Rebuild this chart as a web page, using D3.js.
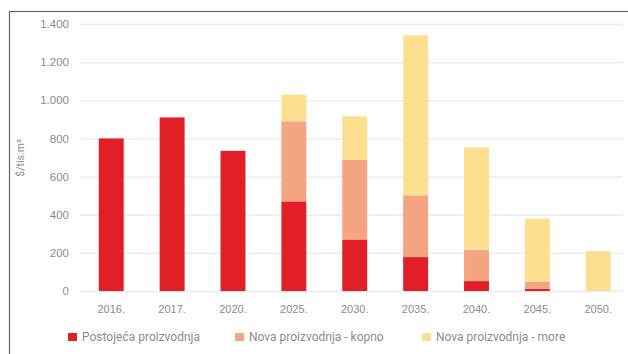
<!DOCTYPE html>
<html>
<head>
<meta charset="utf-8">
<script src="https://cdn.jsdelivr.net/npm/d3@7"></script>
<style>
  html, body { margin: 0; padding: 0; background: #fff; }
  svg { display: block; font-family: Roboto, "Noto Sans", sans-serif; }
</style>
</head>
<body>
<svg id="chart" width="628" height="354"></svg>
<script>
// Years on the x axis
const years = ["2016.", "2017.", "2020.", "2025.", "2030.", "2035.", "2040.", "2045.", "2050."];
// Cost per production source ($/tis.m³)
const postojeca = [800, 910, 735, 470, 270, 178, 52, 12, 0];
const kopno     = [0, 0, 0, 420, 417, 324, 165, 38, 0];
const more      = [0, 0, 0, 140, 229, 839, 536, 329, 210];
const seriesNames = ["Postojeća proizvodnja", "Nova proizvodnja - kopno", "Nova proizvodnja - more"];
const seriesColors = ["#e21f26", "#f5a582", "#fde08f"];
const yTicks = [0, 200, 400, 600, 800, 1000, 1200, 1400];

const svg = d3.select("#chart");

// outer frame (only top and left edges fall inside the view)
svg.append("rect")
  .attr("x", 9.5).attr("y", 11.5)
  .attr("width", 700).attr("height", 400)
  .attr("fill", "none").attr("stroke", "#666").attr("stroke-width", 1.2);

const x = d3.scaleBand().domain(years).range([80.5, 629]).paddingInner(0.59).paddingOuter(0.3);
const y = d3.scaleLinear().domain([0, 1400]).range([291, 24]);

const loc = d3.formatLocale({ decimal: ",", thousands: ".", grouping: [3], currency: ["", ""] });
const fmt = loc.format(",");

// grid lines
svg.append("g").selectAll("line").data(yTicks).join("line")
  .attr("x1", 80).attr("x2", 623)
  .attr("y1", d => y(d) + 0.5).attr("y2", d => y(d) + 0.5)
  .attr("stroke", "#ececec").attr("stroke-width", 1.5);

// y axis labels
const yAxis = d3.axisLeft(y).tickValues(yTicks).tickFormat(fmt).tickSize(0).tickPadding(0);
const gy = svg.append("g").attr("transform", "translate(69,0)").call(yAxis);
gy.select(".domain").remove();
gy.selectAll("text").attr("fill", "#8c8c8c").attr("font-size", 11.5);

// y axis title
svg.append("text")
  .attr("transform", "translate(24,158) rotate(-90)")
  .attr("text-anchor", "middle")
  .attr("fill", "#8c8c8c").attr("font-size", 10.5)
  .text("$/tis.m³");

// stacked bars
const rows = years.map((yr, i) => ({ year: yr, a: postojeca[i], b: kopno[i], c: more[i] }));
const stack = d3.stack().keys(["a", "b", "c"]);
const layers = stack(rows);

svg.append("g").selectAll("g").data(layers).join("g")
  .attr("fill", (d, i) => seriesColors[i])
  .selectAll("rect").data(d => d).join("rect")
  .attr("x", d => x(d.data.year))
  .attr("width", x.bandwidth())
  .attr("y", d => y(d[1]))
  .attr("height", d => Math.max(0, y(d[0]) - y(d[1])));

// x axis labels
const xAxis = d3.axisBottom(x).tickSize(0).tickPadding(0);
const gx = svg.append("g").attr("transform", "translate(0,305)").call(xAxis);
gx.select(".domain").remove();
gx.selectAll("text").attr("fill", "#8c8c8c").attr("font-size", 11);

// legend
const legendX = [68, 235, 422];
const lg = svg.append("g").selectAll("g").data(seriesNames).join("g")
  .attr("transform", (d, i) => `translate(${legendX[i]},337)`);
lg.append("rect").attr("x", 0).attr("y", -4).attr("width", 9).attr("height", 8)
  .attr("fill", (d, i) => seriesColors[i]);
lg.append("text").attr("x", 14).attr("y", 0).attr("dy", "0.35em")
  .attr("fill", "#8c8c8c").attr("font-size", 12)
  .text(d => d);
</script>
</body>
</html>
